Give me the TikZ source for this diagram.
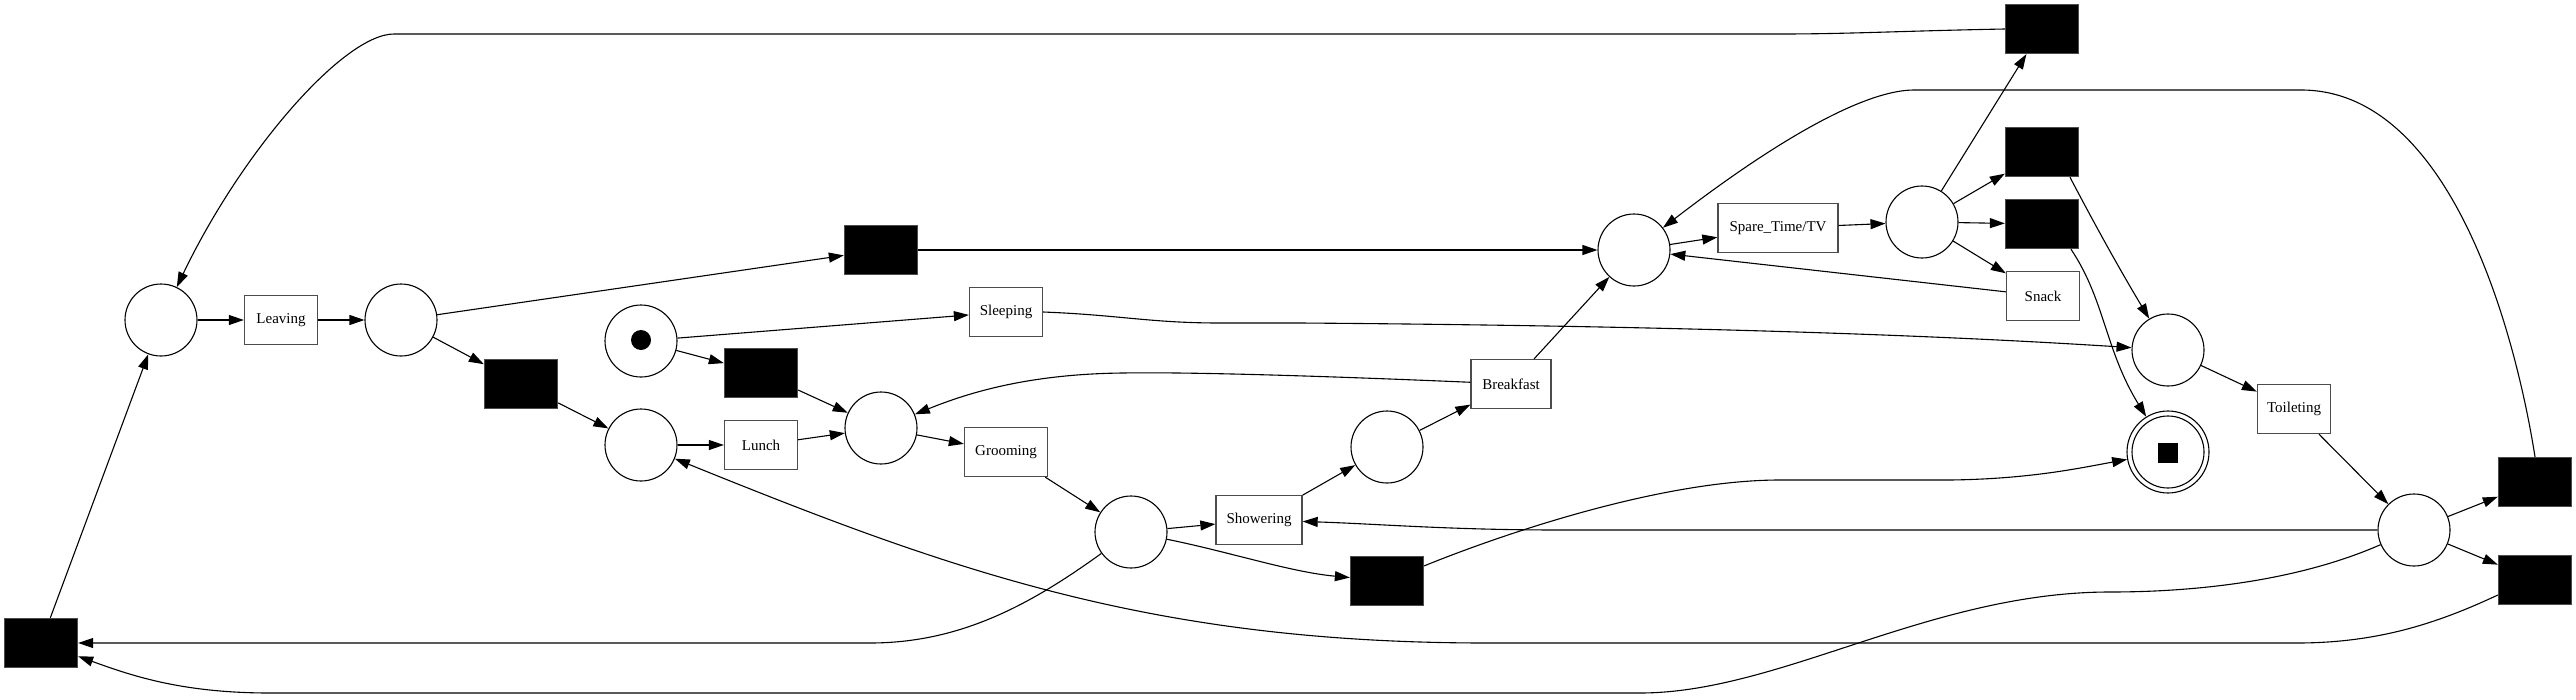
\documentclass[tikz,border=0pt]{standalone}
\usepackage{fontspec}
\setmainfont{Liberation Serif}
\usetikzlibrary{arrows.meta}
\begin{document}
\begin{tikzpicture}[x=1pt,y=-1pt,
  place/.style={circle,draw,line width=1.1pt,minimum size=72pt,inner sep=0pt},
  trans/.style={rectangle,draw=black!70,line width=1.3pt,minimum width=73pt,minimum height=49pt,inner sep=2pt,font=\fontsize{15}{18}\selectfont},
  silent/.style={rectangle,draw=black!70,fill=black,line width=1.3pt,minimum width=73pt,minimum height=49pt,inner sep=0pt},
  arc/.style={line width=1.1pt,-{Triangle[length=15pt,width=10pt]}}
]
\useasboundingbox (0,0) rectangle (2576,699);
% places
\node[place] (pA) at (161,320) {};
\node[place] (pB) at (401,320) {};
\node[place] (p0) at (641,341) {};
\node[circle,fill=black,minimum size=20pt,inner sep=0pt] (tok) at (641,340) {};
\node[place] (pL) at (641,445) {};
\node[place] (pC) at (881,428) {};
\node[place] (pD) at (1131,532) {};
\node[place] (pG) at (1387,447) {};
\node[place] (pE) at (1634,250) {};
\node[place] (pF) at (1922,222) {};
\node[place] (pH) at (2168,350) {};
\node[place,minimum size=82pt] (pEnd) at (2168,452) {};
\node[circle,draw,line width=1.1pt,minimum size=72pt,inner sep=0pt] (pEndIn) at (2168,452) {};
\node[fill=black,minimum size=20pt,inner sep=0pt] (endtok) at (2168,453) {};
\node[place] (pI) at (2414,530) {};
% transitions
\node[trans] (leaving) at (281,320) {Leaving};
\node[silent] (t1) at (521,384) {};
\node[silent] (t2) at (881,250) {};
\node[trans] (sleeping) at (1006,312) {Sleeping};
\node[silent] (t3) at (761,373) {};
\node[trans] (lunch) at (761,445) {Lunch};
\node[trans,minimum width=83pt] (grooming) at (1006,452) {Grooming};
\node[trans,minimum width=86pt] (showering) at (1259,520) {Showering};
\node[silent] (t4) at (1387,581) {};
\node[trans,minimum width=80pt] (breakfast) at (1511,384) {Breakfast};
\node[trans,minimum width=120pt] (spare) at (1778,228) {Spare\_Time/TV};
\node[silent] (t5) at (2042,29) {};
\node[silent] (t6) at (2042,152) {};
\node[silent] (t7) at (2042,224) {};
\node[trans] (snack) at (2043,296) {Snack};
\node[trans] (toileting) at (2294,409) {Toileting};
\node[silent] (tR1) at (2535,482) {};
\node[silent] (tR2) at (2535,580) {};
\node[silent] (tBL) at (41,643) {};
% arcs
\draw[arc] (pA) -- (leaving);
\draw[arc] (leaving) -- (pB);
\draw[arc] (pB) -- (t1);
\draw[arc] (pB) -- (t2);
\draw[arc] (t1) -- (pL);
\draw[arc] (t2) -- (pE);
\draw[arc] (p0) -- (sleeping);
\draw[arc] (p0) -- (t3);
\draw[arc] (pL) -- (lunch);
\draw[arc] (lunch) -- (pC);
\draw[arc] (t3) -- (pC);
\draw[arc] (pC) -- (grooming);
\draw[arc] (grooming) -- (pD);
\draw[arc] (pD) -- (showering);
\draw[arc] (pD) .. controls (1230,552) and (1290,572) .. (t4);
\draw[arc] (showering) -- (pG);
\draw[arc] (pG) -- (breakfast);
\draw[arc] (breakfast) -- (pE);
\draw[arc] (breakfast) .. controls (1300,375) and (1180,372) .. (1123,373) .. controls (1030,374) and (970,392) .. (pC);
\draw[arc] (pE) -- (spare);
\draw[arc] (spare) -- (pF);
\draw[arc] (pF) -- (t5);
\draw[arc] (pF) -- (t6);
\draw[arc] (pF) -- (t7);
\draw[arc] (pF) -- (snack);
\draw[arc] (snack) -- (pE);
\draw[arc] (t6.-42) .. controls (2095,225) and (2120,270) .. (pH);
\draw[arc] (t7.-41) .. controls (2105,300) and (2105,350) .. (pEnd);
\draw[arc] (t5.west) .. controls (1900,31) and (1850,34) .. (1780,34) -- (394,34) .. controls (344,34) and (242,151) .. (pA);
\draw[arc] (sleeping.east) .. controls (1120,315) and (1150,323) .. (1220,323) -- (1300,323) .. controls (1700,326) and (1950,336) .. (pH);
\draw[arc] (pH) -- (toileting);
\draw[arc] (toileting) -- (pI);
\draw[arc] (pI) -- (tR1);
\draw[arc] (pI) -- (tR2);
\draw[arc] (tR1.north) .. controls (2515,330) and (2450,90) .. (2301,90) -- (1914,90) .. controls (1870,90) and (1790,130) .. (pE);
\draw[arc] (tR2.202) .. controls (2440,622) and (2380,643) .. (2297,643) -- (1487,643) .. controls (1150,643) and (950,570) .. (pL);
\draw[arc] (pI) .. controls (2300,580) and (2200,592) .. (2110,592) .. controls (1930,592) and (1780,693) .. (1640,693) -- (270,693) .. controls (180,693) and (130,675) .. (tBL);
\draw[arc] (pD) .. controls (1030,605) and (960,643) .. (870,643) -- (tBL);
\draw[arc] (pI) -- (1560,530) .. controls (1450,530) and (1380,524) .. (showering);
\draw[arc] (t4) .. controls (1500,535) and (1660,480) .. (1780,480) -- (1950,480) .. controls (2030,479) and (2080,468) .. (pEnd);
\draw[arc] (tBL) -- (pA);
\end{tikzpicture}
\end{document}
